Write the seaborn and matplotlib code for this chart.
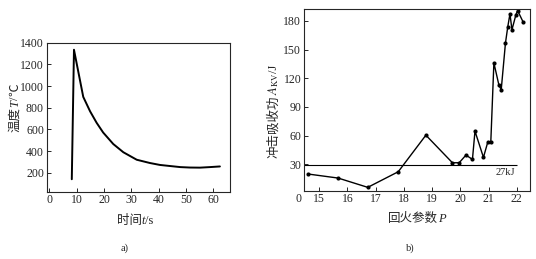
import matplotlib
matplotlib.use("Agg")
import matplotlib.pyplot as plt
import seaborn as sns
import pandas as pd

# ---- data: panel a) thermal cycle ----
time_s = [8.2, 9.0, 12.4, 14.9, 17.3, 19.7, 23.4, 27.1, 32.0, 36.8, 40.5, 44.2, 48.0, 51.5, 55.2, 58.8, 62.5]
temp_c = [140, 1335, 900, 767, 661, 571, 465, 389, 320, 290, 272, 262, 252, 248, 247, 252, 258]
a_xticks = [0, 10, 20, 30, 40, 50, 60]
a_yticks = [200, 400, 600, 800, 1000, 1200, 1400]

# ---- data: panel b) impact energy vs tempering parameter ----
temper_p = [14.61, 15.67, 16.72, 17.80, 18.78, 19.72, 19.96, 20.20, 20.43, 20.52, 20.82, 20.97,
            21.08, 21.19, 21.37, 21.45, 21.60, 21.68, 21.76, 21.83, 21.97, 22.03, 22.23]
akv_j = [19.9, 15.7, 6.0, 22.3, 60.5, 31.7, 31.7, 39.7, 35.2, 64.7, 37.3, 52.9,
         52.9, 136.0, 112.6, 108.0, 156.7, 173.3, 187.3, 170.6, 186.2, 190.7, 178.5]
b_xticks = [15, 16, 17, 18, 19, 20, 21, 22]
b_yticks = [30, 60, 90, 120, 150, 180]
ref_level = 29.3
ref_label = "27kJ"

CJK = ['Noto Sans CJK SC', 'DejaVu Sans']
SERIF = ['Liberation Serif', 'DejaVu Serif']

sns.set_style("ticks")
plt.rcParams['font.family'] = SERIF
plt.rcParams['mathtext.fontset'] = 'stix'
plt.rcParams['xtick.direction'] = 'in'
plt.rcParams['ytick.direction'] = 'in'
plt.rcParams['xtick.major.size'] = 3
plt.rcParams['ytick.major.size'] = 3
plt.rcParams['axes.linewidth'] = 0.8

fig = plt.figure(figsize=(5.36, 2.59), dpi=100)
W, H = 536, 259

def add_axes(x0, y0, x1, y1):
    return fig.add_axes([x0 / W, 1 - y1 / H, (x1 - x0) / W, (y1 - y0) / H])

def label_pieces(pieces, x_px, y_px, rotation, size):
    """Place mixed-font label pieces centred on (x_px, y_px) (pixels from top-left).
    For rotation 0, y_px is the baseline; for rotation 90, x_px is the baseline."""
    renderer = fig.canvas.get_renderer()
    texts = []
    for s, fam, style in pieces:
        t = fig.text(0, 0, s, fontsize=size, family=fam, style=style,
                     rotation=rotation, rotation_mode='anchor',
                     ha='left', va='baseline')
        texts.append(t)
    lengths = []
    for t in texts:
        bb = t.get_window_extent(renderer)
        lengths.append(bb.height if rotation == 90 else bb.width)
    total = sum(lengths)
    if rotation == 90:
        pos = (H - y_px) - total / 2
        for t, l in zip(texts, lengths):
            t.set_position((x_px / W, pos / H))
            pos += l
    else:
        pos = x_px - total / 2
        for t, l in zip(texts, lengths):
            t.set_position((pos / W, (H - y_px) / H))
            pos += l

tick_fs = 8.5
lab_fs = 9

# ----- panel a -----
ax1 = add_axes(46.7, 42.7, 230, 191.7)
df_a = pd.DataFrame({"t": time_s, "T": temp_c})
sns.lineplot(data=df_a, x="t", y="T", ax=ax1, color="black", linewidth=1.4, sort=False)
ax1.set_xlim(-1, 66.2)
ax1.set_ylim(25, 1400)
ax1.set_xticks(a_xticks)
ax1.set_yticks(a_yticks)
ax1.tick_params(labelsize=tick_fs, width=0.7, pad=2)
ax1.set_xlabel("")
ax1.set_ylabel("")
label_pieces([("时间", CJK, 'normal'), ("t", SERIF, 'italic'), ("/s", SERIF, 'normal')],
             135, 224, 0, lab_fs)
label_pieces([("温度", CJK, 'normal'), ("T", SERIF, 'italic'), ("/", SERIF, 'normal'),
              ("℃", CJK, 'normal')], 18.5, 108, 90, lab_fs)
fig.text(125 / W, 1 - 248 / H, "a)", fontsize=7.5, ha="center", va="center")

# ----- panel b -----
ax2 = add_axes(304, 9.3, 530, 190.7)
df_b = pd.DataFrame({"P": temper_p, "A": akv_j})
sns.lineplot(data=df_b, x="P", y="A", ax=ax2, color="black", linewidth=1.0,
             marker="o", markersize=3, markeredgewidth=0, sort=False)
ax2.set_xlim(14.46, 22.47)
ax2.set_ylim(2.5, 192)
ax2.set_xticks(b_xticks)
ax2.set_yticks(b_yticks)
ax2.tick_params(labelsize=tick_fs, width=0.7, pad=2)
ax2.set_xlabel("")
ax2.set_ylabel("")
ax2.hlines(ref_level, 14.46, 22.0, color="black", linewidth=0.8)
ax2.text(21.6, 21.5, ref_label, fontsize=7.5, ha="center", va="center")
ax2.annotate("0", xy=(0, 0), xycoords="axes fraction", xytext=(-4, -2),
             textcoords="offset points", ha="center", va="top", fontsize=tick_fs)
label_pieces([("回火参数", CJK, 'normal'), ("P", SERIF, 'italic')], 417, 222, 0, lab_fs)
label_pieces([("冲击吸收功", CJK, 'normal'), ("$A_{\\mathrm{KV}}$", SERIF, 'normal'),
              ("/J", SERIF, 'normal')], 277, 111, 90, lab_fs)
fig.text(410 / W, 1 - 248 / H, "b)", fontsize=7.5, ha="center", va="center")

fig.savefig("out.png", dpi=100)
